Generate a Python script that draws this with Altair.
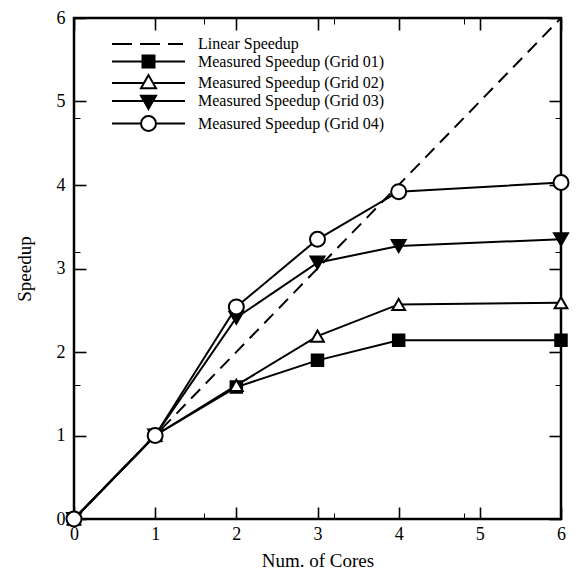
import altair as alt
import pandas as pd

# ---- data ----
cores = [0, 1, 2, 3, 4, 6]
grid01 = [0, 1, 1.58, 1.90, 2.14, 2.14]
grid02 = [0, 1, 1.60, 2.19, 2.57, 2.59]
grid03 = [0, 1, 2.41, 3.07, 3.27, 3.35]
grid04 = [0, 1, 2.54, 3.35, 3.92, 4.03]
linear_x = [0, 6]
linear_y = [0, 6]

series_names = [
    "Linear Speedup",
    "Measured Speedup (Grid 01)",
    "Measured Speedup (Grid 02)",
    "Measured Speedup (Grid 03)",
    "Measured Speedup (Grid 04)",
]
major_ticks = [0, 1, 2, 3, 4, 5, 6]
minor_ticks = [round(i * 0.2, 1) for i in range(31)]

rows = []
for name, vals in zip(series_names[1:], [grid01, grid02, grid03, grid04]):
    for c, v in zip(cores, vals):
        rows.append({"cores": c, "speedup": v, "series": name})
meas = pd.DataFrame(rows)
lin = pd.DataFrame({"cores": linear_x, "speedup": linear_y, "series": series_names[0]})

FONT = "Liberation Serif"
xs = alt.Scale(domain=[0, 6], nice=False, zero=False)
ys = alt.Scale(domain=[0, 6], nice=False, zero=False)


def ax(orient, values, size, width, labels=False, **kw):
    return alt.Axis(
        orient=orient, values=values, tickSize=size, tickWidth=width, offset=-size,
        domain=False, grid=False, labels=labels, tickColor="black", ticks=True,
        tickOpacity=1,
        labelFont=FONT, labelFontSize=18, labelColor="black", labelFlush=False,
        labelOverlap=False, format="d", titleFont=FONT, titleFontSize=19,
        titleFontWeight="normal", titleColor="black", **kw)


bottom_major = ax("bottom", major_ticks, 12, 1.6, labels=True, labelPadding=6,
                  titleBaseline="alphabetic", titleY=59)
left_major = ax("left", major_ticks, 12, 1.6, labels=True, labelPadding=9,
                titleAngle=270, titleBaseline="alphabetic", titleX=-56)
bottom_minor = ax("bottom", minor_ticks, 6, 1)
left_minor = ax("left", minor_ticks, 6, 1)
top_major = ax("top", major_ticks, 12, 1.6)
right_major = ax("right", major_ticks, 12, 1.6)
top_minor = ax("top", minor_ticks, 6, 1)
right_minor = ax("right", minor_ticks, 6, 1)

linear = alt.Chart(lin).mark_line(color="black", strokeWidth=2, strokeDash=[13, 8]).encode(
    x=alt.X("cores:Q", scale=xs, axis=bottom_minor, title=None),
    y=alt.Y("speedup:Q", scale=ys, axis=left_minor, title=None),
)

lines = alt.Chart(meas).mark_line(color="black", strokeWidth=2).encode(
    x=alt.X("cores:Q", scale=xs, axis=bottom_major, title="Num. of Cores"),
    y=alt.Y("speedup:Q", scale=ys, axis=left_major, title="Speedup"),
    detail="series:N",
)

markers = alt.Chart(meas).mark_point(stroke="black", strokeWidth=2, opacity=1).encode(
    x=alt.X("cores:Q", scale=xs, axis=top_major, title=None),
    y=alt.Y("speedup:Q", scale=ys, axis=right_major, title=None),
    shape=alt.Shape("series:N", scale=alt.Scale(domain=series_names[1:],
                    range=["square", "triangle-up", "triangle-down", "circle"]), legend=None),
    fill=alt.Fill("series:N", scale=alt.Scale(domain=series_names[1:],
                  range=["black", "white", "black", "white"]), legend=None),
    size=alt.Size("series:N", scale=alt.Scale(domain=series_names[1:],
                  range=[132, 225, 225, 225]), legend=None),
)

legend_paths = [
    "M-4.87,0L-2.2,0M-1.13,0L1.53,0M2.6,0L4.6,0",
    "M-4.87,0L-0.8,0M0.8,0L4.87,0M-0.8,-0.8L0.8,-0.8L0.8,0.8L-0.8,0.8Z",
    "M-4.87,0L-0.6,0M0.6,0L4.87,0M0,-1.05L1,0.7L-1,0.7Z",
    "M-4.87,0L-0.6,0M0.6,0L4.87,0M0,1.05L1,-0.7L-1,-0.7Z",
    "M-4.87,0L-1,0M1,0L4.87,0M1,0A1,1 0 1,1 -1,0A1,1 0 1,1 1,0Z",
]
legend_fill = ["white", "black", "white", "black", "white"]
legend_stroke = ["black", "black", "black", "black", "black"]

leg = alt.Legend(
    title=None, orient="none", legendX=66, legendY=17.5, padding=0,
    labelFont=FONT, labelFontSize=16, labelColor="black", labelLimit=400,
    labelOffset=41, symbolOffset=0, rowPadding=-1.5, symbolSize=225,
    symbolStrokeWidth=2, symbolOpacity=1,
)

legend_layer = alt.Chart(meas).mark_point(strokeWidth=2, opacity=0).encode(
    x=alt.X("cores:Q", scale=xs, axis=top_minor, title=None),
    y=alt.Y("speedup:Q", scale=ys, axis=right_minor, title=None),
    shape=alt.Shape("series:N", scale=alt.Scale(domain=series_names, range=legend_paths), legend=leg),
    fill=alt.Fill("series:N", scale=alt.Scale(domain=series_names, range=legend_fill), legend=leg),
    stroke=alt.Stroke("series:N", scale=alt.Scale(domain=series_names, range=legend_stroke), legend=leg),
)

chart = (
    alt.layer(linear, lines, markers, legend_layer)
    .resolve_axis(x="independent", y="independent")
    .resolve_scale(shape="independent", fill="independent", size="independent",
                   stroke="independent")
    .properties(width=487, height=501, autosize=alt.AutoSizeParams(type="none"),
                padding={"left": 66, "top": 10, "right": 10, "bottom": 50})
    .configure_view(stroke="black", strokeWidth=2.5)
)

chart.save("out.html", embed_options={"renderer": "svg", "actions": False})
